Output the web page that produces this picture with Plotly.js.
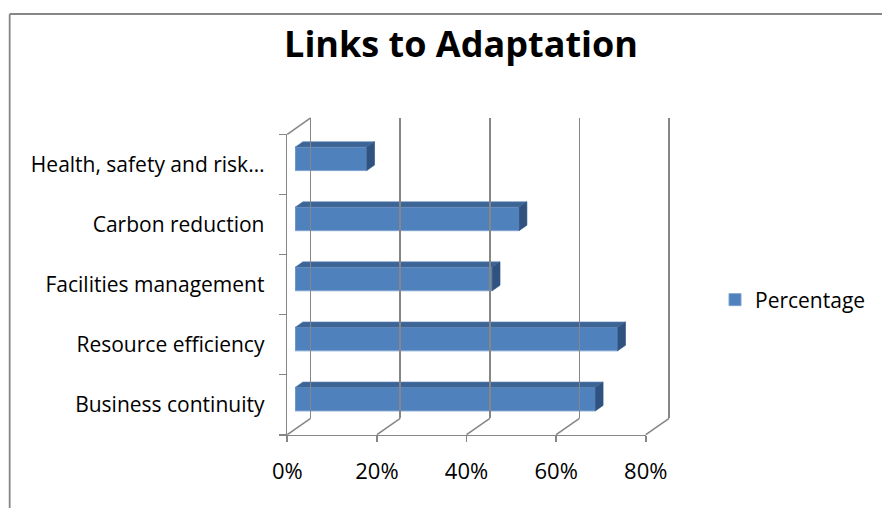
<!DOCTYPE html>
<html>
<head>
<meta charset="utf-8">
<script src="https://cdn.plot.ly/plotly-3.0.1.min.js"></script>
<style>html,body{margin:0;padding:0;background:#fff;}</style>
</head>
<body>
<div id="chart" style="width:882px;height:508px;"></div>
<script>
// ---- data ----
const categories = ['Business continuity', 'Resource efficiency', 'Facilities management', 'Carbon reduction', 'Health, safety and risk…'];
const percentages = [0.67, 0.72, 0.44, 0.50, 0.16];
const seriesName = 'Percentage';
const xTickVals = [0, 0.2, 0.4, 0.6, 0.8];
const xTickText = ['0%', '20%', '40%', '60%', '80%'];
const chartTitle = 'Links to Adaptation';

// ---- geometry (pixels) ----
const W = 882, H = 508;
const PL = 280, PT = 110, PW = 400, PH = 330;        // plot area
const front = {x0: 287.3, x1: 646.7, yb: 434.7, yt: 134.3};
const depth = {dx: 23.4, dy: -16.4};
const xmax = 0.8;
const fx = p => (p - PL) / PW;
const fy = p => (PT + PH - p) / PH;
const dom = (a, b) => [fx(a), fx(b)];
const domY = (b, t) => [fy(b), fy(t)];
const gray = '#868686';
const font = '"Open Sans", Lato, sans-serif';

const pxPerX = (front.x1 - front.x0) / xmax;
const pxPerCat = (front.yb - front.yt) / categories.length;
// bar slab from 1/3 to 2/3 of depth
const bdx = depth.dx / 3, bdy = depth.dy / 3;
const ddx = bdx / pxPerX, ddy = -bdy / pxPerCat;
const barW = 0.39;
const idx = categories.map((c, i) => i);
const eps = 0.004; // small padding so back-wall edge gridlines are drawn

const traces = [];
traces.push({
  type: 'bar', orientation: 'h', name: seriesName,
  x: percentages, y: idx, width: barW,
  xaxis: 'x2', yaxis: 'y2',
  marker: {color: '#4F81BD', line: {color: '#7EA3CF', width: 1}},
  showlegend: true, hoverinfo: 'x'
});
percentages.forEach((v, i) => {
  const top = i + barW / 2, bot = i - barW / 2;
  traces.push({
    type: 'scatter', mode: 'lines', fill: 'toself', xaxis: 'x2', yaxis: 'y2',
    x: [0, v, v + ddx, ddx, 0], y: [top, top, top + ddy, top + ddy, top],
    fillcolor: '#3C6595', line: {color: '#5A84B8', width: 0.6},
    showlegend: false, hoverinfo: 'skip'
  });
  traces.push({
    type: 'scatter', mode: 'lines', fill: 'toself', xaxis: 'x2', yaxis: 'y2',
    x: [v, v + ddx, v + ddx, v, v], y: [top, top + ddy, bot + ddy, bot, top],
    fillcolor: '#2F5280', line: {color: '#2F5280', width: 0.6},
    showlegend: false, hoverinfo: 'skip'
  });
});
// front category axis carrier
traces.push({type: 'scatter', mode: 'markers', x: [null], y: [categories[0]], xaxis: 'x', yaxis: 'y',
  marker: {opacity: 0}, showlegend: false, hoverinfo: 'skip'});
// back wall carrier
traces.push({type: 'scatter', mode: 'markers', x: [null], y: [null], xaxis: 'x3', yaxis: 'y3',
  marker: {opacity: 0}, showlegend: false, hoverinfo: 'skip'});

// floor and wall edges
const shapes = [];
xTickVals.forEach(v => {
  const px = front.x0 + v * pxPerX;
  shapes.push({type: 'line', xref: 'paper', yref: 'paper',
    x0: fx(px), y0: fy(front.yb), x1: fx(px + depth.dx), y1: fy(front.yb + depth.dy),
    line: {color: gray, width: 1.6}});
});
shapes.push({type: 'line', xref: 'paper', yref: 'paper',
  x0: fx(front.x0), y0: fy(front.yt), x1: fx(front.x0 + depth.dx), y1: fy(front.yt + depth.dy),
  line: {color: gray, width: 1.6}});
// chart frame
shapes.push({type: 'line', xref: 'paper', yref: 'paper', x0: fx(9), y0: fy(14), x1: fx(W + 5), y1: fy(14),
  line: {color: gray, width: 1.8}});
shapes.push({type: 'line', xref: 'paper', yref: 'paper', x0: fx(9), y0: fy(14), x1: fx(9), y1: fy(H + 5),
  line: {color: gray, width: 1.8}});

const bx0 = front.x0 + depth.dx, bx1 = front.x1 + depth.dx;
const layout = {
  width: W, height: H,
  margin: {l: PL, r: W - PL - PW, t: PT, b: H - PT - PH},
  paper_bgcolor: '#fff', plot_bgcolor: 'rgba(0,0,0,0)',
  font: {family: font, color: '#000'},
  title: {text: '<b>' + chartTitle + '</b>', font: {size: 36, family: font, color: '#000'},
    x: 461 / W, xanchor: 'center', xref: 'container', y: 1 - 44 / H, yanchor: 'middle', yref: 'container'},
  showlegend: true,
  legend: {x: fx(715), xanchor: 'left', y: fy(300), yanchor: 'middle', font: {size: 21, family: font, color: '#000'},
    bgcolor: 'rgba(0,0,0,0)'},
  xaxis: {domain: dom(front.x0, front.x1), range: [0, xmax], anchor: 'y',
    tickvals: xTickVals, ticktext: xTickText, ticks: 'outside', ticklen: 6, tickcolor: gray, tickwidth: 1.6,
    showline: true, linecolor: gray, linewidth: 1.6, showgrid: false, zeroline: false,
    tickfont: {size: 22, family: font, color: '#000'}, ticklabelstandoff: 10, fixedrange: true},
  yaxis: {domain: domY(front.yb, front.yt), type: 'category', categoryorder: 'array', categoryarray: categories,
    range: [-0.5, categories.length - 0.5], anchor: 'x',
    tickson: 'boundaries', ticks: 'outside', ticklen: 7, tickcolor: gray, tickwidth: 1.6,
    showline: true, linecolor: gray, linewidth: 1.6, showgrid: false, zeroline: false,
    tickfont: {size: 21, family: font, color: '#000'}, ticklabelstandoff: 17, fixedrange: true},
  xaxis2: {domain: dom(front.x0 + bdx, front.x1 + bdx), range: [0, xmax], anchor: 'y2', visible: false, fixedrange: true},
  yaxis2: {domain: domY(front.yb + bdy, front.yt + bdy), range: [-0.5, categories.length - 0.5], anchor: 'x2', visible: false, fixedrange: true},
  xaxis3: {domain: dom(bx0 - eps * pxPerX, bx1 + eps * pxPerX), range: [-eps, xmax + eps], anchor: 'y3',
    tickvals: xTickVals, showticklabels: false, ticks: '', showgrid: true, gridcolor: gray, gridwidth: 1.6,
    zeroline: false, showline: false, fixedrange: true},
  yaxis3: {domain: domY(front.yb + depth.dy, front.yt + depth.dy), range: [0, 1], anchor: 'x3', visible: false, fixedrange: true},
  shapes: shapes,
  bargap: 0
};

Plotly.newPlot('chart', traces, layout, {displayModeBar: false, staticPlot: true});
</script>
</body>
</html>
